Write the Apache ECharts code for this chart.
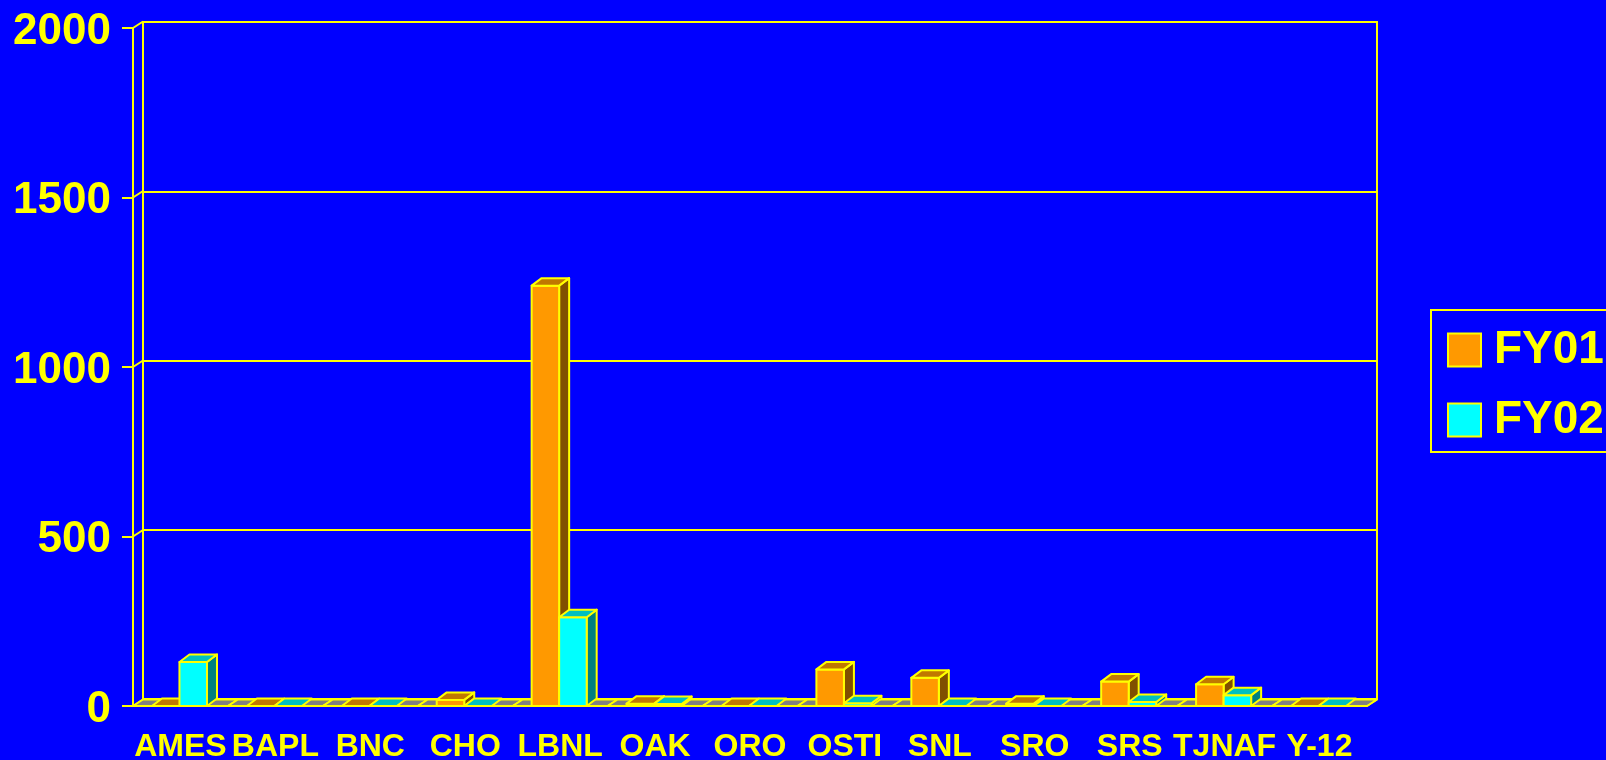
<!DOCTYPE html>
<html>
<head>
<meta charset="utf-8">
<script src="https://cdn.jsdelivr.net/npm/echarts@6/dist/echarts.min.js"></script>
<style>
  html, body { margin: 0; padding: 0; background: #0000ff; }
  #chart { width: 1606px; height: 760px; }
</style>
</head>
<body>
<div id="chart"></div>
<script>
const sites = ['AMES', 'BAPL', 'BNC', 'CHO', 'LBNL', 'OAK', 'ORO', 'OSTI', 'SNL', 'SRO', 'SRS', 'TJNAF', 'Y-12']
const fy01 = [0, 0, 0, 18, 1240, 7, 0, 108, 83, 7, 72, 64, 0]
const fy02 = [130, 0, 0, 0, 262, 6, 0, 8, 0, 0, 12, 32, 0]
const yTicks = [0, 500, 1000, 1500, 2000]

const YELLOW = '#ffff00'
const FONT = '"Liberation Sans", Arial, sans-serif'
// depth of the fake 3D (front plane -> back wall)
const DX = 10
const DY = 6.5

const chart = echarts.init(document.getElementById('chart'))

const edge = { stroke: YELLOW, lineWidth: 2, lineJoin: 'round' }

// one 3D column: front rect, top and right side faces
function columnRenderer(slot, front, top, side) {
  return function (params, api) {
    const cat = api.value(0)
    const band = api.size([1, 0])[0]
    const w = band * 0.29
    const base = api.coord([cat, 0])
    const head = api.coord([cat, api.value(1)])
    const x0 = base[0] - 1 + (slot === 0 ? -w : 0)
    const x1 = x0 + w
    const yb = base[1]
    const yt = head[1]
    const dy = 7.5
    const kids = []
    if (yb - yt > 0.5) {
      kids.push({
        type: 'polygon',
        shape: { points: [[x1, yb], [x1, yt], [x1 + DX, yt - dy], [x1 + DX, yb - dy]] },
        style: Object.assign({ fill: side }, edge)
      })
      kids.push({
        type: 'rect',
        shape: { x: x0, y: yt, width: w, height: yb - yt },
        style: Object.assign({ fill: front }, edge)
      })
    }
    kids.push({
      type: 'polygon',
      shape: { points: [[x0, yt], [x1, yt], [x1 + DX, yt - dy], [x0 + DX, yt - dy]] },
      style: Object.assign({ fill: top }, edge)
    })
    return { type: 'group', children: kids }
  }
}

// grey floor strip under each category
function floorRenderer(params, api) {
  const band = api.size([1, 0])[0]
  const c = api.coord([api.value(0), 0])
  const xL = c[0] - band / 2
  const xR = c[0] + band / 2
  const y = c[1]
  return {
    type: 'polygon',
    shape: { points: [[xL, y], [xR, y], [xR + DX, y - DY], [xL + DX, y - DY]] },
    style: Object.assign({ fill: '#808080' }, edge)
  }
}

// diagonal links between the front axis and the back wall
function linkRenderer(params, api) {
  const band = api.size([1, 0])[0]
  const c = api.coord([api.value(0), api.value(1)])
  const x = c[0] + api.value(2) * band / 2
  return {
    type: 'line',
    shape: { x1: x, y1: c[1], x2: x + DX, y2: c[1] - DY },
    style: { stroke: YELLOW, lineWidth: 2 }
  }
}

const links = yTicks.map(v => [0, v, -1]).concat([[sites.length - 1, 0, 1]])

chart.setOption({
  backgroundColor: '#0000ff',
  animation: false,
  textStyle: { fontFamily: FONT },
  legend: {
    data: ['FY01', 'FY02'],
    orient: 'vertical',
    left: 1431,
    top: 310,
    padding: [17, 16, 9, 16],
    itemWidth: 33,
    itemHeight: 33,
    itemGap: 24,
    icon: 'rect',
    borderColor: YELLOW,
    borderWidth: 2,
    textStyle: { color: YELLOW, fontSize: 46, fontWeight: 'bold', fontFamily: FONT, lineHeight: 40, padding: [0, 0, 0, 8] }
  },
  grid: [
    { left: 133, right: 239, top: 28, bottom: 54, outerBoundsMode: 'none' },
    {
      left: 143, right: 229, top: 22, bottom: 61, outerBoundsMode: 'none',
      show: true, borderColor: YELLOW, borderWidth: 2, backgroundColor: 'transparent'
    }
  ],
  xAxis: [
    {
      type: 'category',
      gridIndex: 0,
      data: sites,
      axisLine: { lineStyle: { color: YELLOW, width: 2 } },
      axisTick: { length: 10, lineStyle: { color: YELLOW, width: 2 } },
      axisLabel: { interval: 0, color: YELLOW, fontSize: 32, fontWeight: 'bold', fontFamily: FONT, margin: 25 }
    },
    { type: 'category', gridIndex: 1, data: sites, show: false }
  ],
  yAxis: [
    {
      type: 'value',
      gridIndex: 0,
      min: 0,
      max: 2000,
      interval: 500,
      axisLine: { show: true, lineStyle: { color: YELLOW, width: 2 } },
      axisTick: { show: true, length: 11, lineStyle: { color: YELLOW, width: 2 } },
      axisLabel: {
        margin: 22,
        formatter: v => '{n|' + v + '}',
        rich: {
          n: { color: YELLOW, fontSize: 44, fontWeight: 'bold', fontFamily: FONT, padding: [7, 0, 0, 0] }
        }
      },
      splitLine: { show: false }
    },
    {
      type: 'value',
      gridIndex: 1,
      min: 0,
      max: 2000,
      interval: 500,
      axisLine: { show: false },
      axisTick: { show: false },
      axisLabel: { show: false },
      splitLine: { lineStyle: { color: YELLOW, width: 2 } }
    }
  ],
  series: [
    {
      name: 'links',
      type: 'custom',
      xAxisIndex: 0,
      yAxisIndex: 0,
      silent: true,
      clip: false,
      renderItem: linkRenderer,
      data: links,
      z: 2
    },
    {
      name: 'floor',
      type: 'custom',
      xAxisIndex: 0,
      yAxisIndex: 0,
      silent: true,
      clip: false,
      renderItem: floorRenderer,
      data: sites.map((s, i) => [i, 0]),
      z: 2
    },
    {
      name: 'FY01',
      type: 'custom',
      xAxisIndex: 0,
      yAxisIndex: 0,
      silent: true,
      clip: false,
      itemStyle: { color: '#ff9900', borderColor: YELLOW, borderWidth: 2 },
      renderItem: columnRenderer(0, '#ff9900', '#c07800', '#805000'),
      data: fy01.map((v, i) => [i, v]),
      z: 3
    },
    {
      name: 'FY02',
      type: 'custom',
      xAxisIndex: 0,
      yAxisIndex: 0,
      silent: true,
      clip: false,
      itemStyle: { color: '#00ffff', borderColor: YELLOW, borderWidth: 2 },
      renderItem: columnRenderer(1, '#00ffff', '#00c0c0', '#008080'),
      data: fy02.map((v, i) => [i, v]),
      z: 4
    }
  ]
})
</script>
</body>
</html>
